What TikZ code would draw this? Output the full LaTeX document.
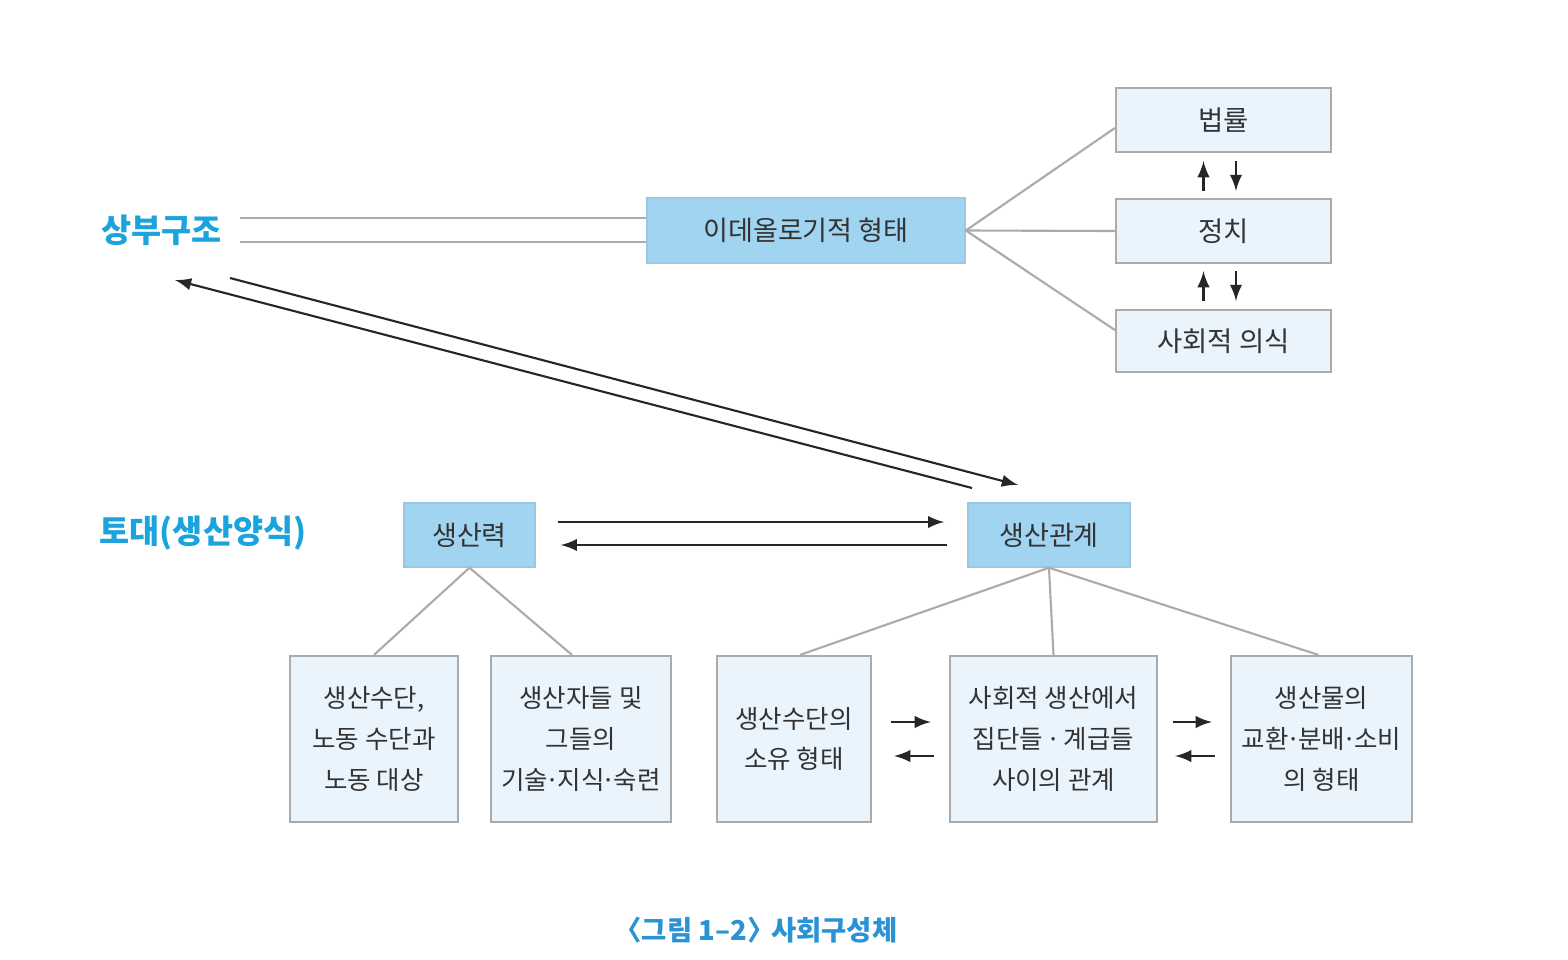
\documentclass[tikz,border=0pt]{standalone}
\usepackage{fontspec}
\setmainfont{Noto Sans CJK KR}
\usetikzlibrary{positioning}
\definecolor{ideoColor}{HTML}{A0D4F1}
\definecolor{paleColor}{HTML}{EAF4FC}
\definecolor{labelColor}{HTML}{1BA3DD}
\definecolor{capColor}{HTML}{2A93D5}
\definecolor{lineColor}{HTML}{ABABAB}
\definecolor{textColor}{HTML}{333333}
\newcommand{\mdot}{\kern-0.1em·\kern-0.1em}

\begin{document}
\begin{tikzpicture}[x=0.01cm, y=-0.01cm,
    bluebox/.style={fill=ideoColor, draw=ideoColor!85!gray, text=textColor, inner sep=0pt,
      font=\fontsize{7.7}{11.6}\selectfont, minimum height=0.64cm},
    palebox/.style={fill=paleColor, draw=lineColor, line width=0.6pt, text=textColor, inner sep=0pt,
      align=center, font=\fontsize{7.25}{11.6}\selectfont},
    toplabel/.style={font=\fontsize{7.8}{11.6}\selectfont},
    tag/.style={text=labelColor, font=\bfseries\fontsize{9.3}{11}\selectfont, inner sep=0pt},
    link/.style={draw=lineColor, line width=0.6pt},
    arr/.style={-latex, line width=0.6pt, black!85}]
  \useasboundingbox (0,0) rectangle (1568,960);

  % superstructure
  \node[tag, anchor=west] (sup) at (101,230) {상부구조};
  \node[bluebox, minimum width=3.18cm, minimum height=0.65cm] (ideo) at (806,230.5) {이데올로기적 형태};
  \node[palebox, toplabel, minimum width=2.15cm, minimum height=0.64cm] (law) at (1223.5,120) {법률};
  \node[palebox, toplabel, minimum width=2.15cm, minimum height=0.64cm] (pol) at (1223.5,231) {정치};
  \node[palebox, toplabel, minimum width=2.15cm, minimum height=0.62cm] (cons) at (1223.5,341) {사회적 의식};

  \coordinate (supR) at (240,230);
  \draw[link] ([yshift=0.12cm]supR) -- ([yshift=0.12cm]supR -| ideo.west);
  \draw[link] ([yshift=-0.12cm]supR) -- ([yshift=-0.12cm]supR -| ideo.west);
  \draw[link] (ideo.east) -- ([yshift=-0.08cm]law.west);
  \draw[link] (ideo.east) -- (pol.west);
  \draw[link] (ideo.east) -- ([yshift=0.11cm]cons.west);

  \draw[arr, shorten <=0.07cm, shorten >=0.08cm] ([xshift=-0.2cm]pol.north) -- ([xshift=-0.2cm]law.south);
  \draw[arr, shorten <=0.08cm, shorten >=0.07cm] ([xshift=0.125cm]law.south) -- ([xshift=0.125cm]pol.north);
  \draw[arr, shorten <=0.08cm, shorten >=0.07cm] ([xshift=-0.2cm]cons.north) -- ([xshift=-0.2cm]pol.south);
  \draw[arr, shorten <=0.07cm, shorten >=0.08cm] ([xshift=0.125cm]pol.south) -- ([xshift=0.125cm]cons.north);

  % base
  \node[tag, anchor=west] (base) at (99,533) {토대(생산양식)};
  \node[bluebox, minimum width=1.31cm] (force) at (469.5,535) {생산력};
  \node[bluebox, minimum width=1.62cm] (rel) at (1049,535) {생산관계};

  \coordinate (up1) at (230,278);
  \coordinate (up2) at (1018,485);
  \coordinate (dn1) at (972,488);
  \coordinate (dn2) at (175,280);
  \draw[arr] (up1) -- (up2);
  \draw[arr] (dn1) -- (dn2);

  \draw[arr, shorten <=0.22cm, shorten >=0.23cm] ([yshift=0.13cm]force.east) -- ([yshift=0.13cm]rel.west);
  \draw[arr, shorten <=0.2cm, shorten >=0.25cm] ([yshift=-0.1cm]rel.west) -- ([yshift=-0.1cm]force.east);

  \node[palebox, minimum width=1.68cm, minimum height=1.66cm] (means) at (374,739) {생산수단,\\노동 수단과\\노동 대상};
  \node[palebox, minimum width=1.80cm, minimum height=1.66cm] (makers) at (581,739) {생산자들 및\\그들의\\기술\mdot 지식\mdot 숙련};
  \node[palebox, minimum width=1.54cm, minimum height=1.66cm] (own) at (794,739) {생산수단의\\소유 형태};
  \node[palebox, minimum width=2.07cm, minimum height=1.66cm] (class) at (1053.5,739) {사회적 생산에서\\집단들 \mdot{} 계급들\\사이의 관계};
  \node[palebox, minimum width=1.81cm, minimum height=1.66cm] (dist) at (1321.5,739) {생산물의\\교환\mdot 분배\mdot 소비\\의 형태};

  \draw[link] (force.south) -- (means.north);
  \draw[link] (force.south) -- ([xshift=-0.09cm]makers.north);
  \draw[link] (rel.south) -- ([xshift=0.06cm]own.north);
  \draw[link] (rel.south) -- (class.north);
  \draw[link] (rel.south) -- ([xshift=-0.03cm]dist.north);

  \draw[arr, shorten <=0.19cm, shorten >=0.18cm] ([yshift=0.17cm]own.east) -- ([yshift=0.17cm]class.west);
  \draw[arr, shorten <=0.15cm, shorten >=0.22cm] ([yshift=-0.17cm]class.west) -- ([yshift=-0.17cm]own.east);
  \draw[arr, shorten <=0.15cm, shorten >=0.18cm] ([yshift=0.17cm]class.east) -- ([yshift=0.17cm]dist.west);
  \draw[arr, shorten <=0.15cm, shorten >=0.17cm] ([yshift=-0.17cm]dist.west) -- ([yshift=-0.17cm]class.east);

  \node[text=capColor, font=\bfseries\fontsize{7.8}{9}\selectfont] (cap) at (756,930) {〈그림 1–2〉\kern-0.35em{} 사회구성체};
\end{tikzpicture}
\end{document}
